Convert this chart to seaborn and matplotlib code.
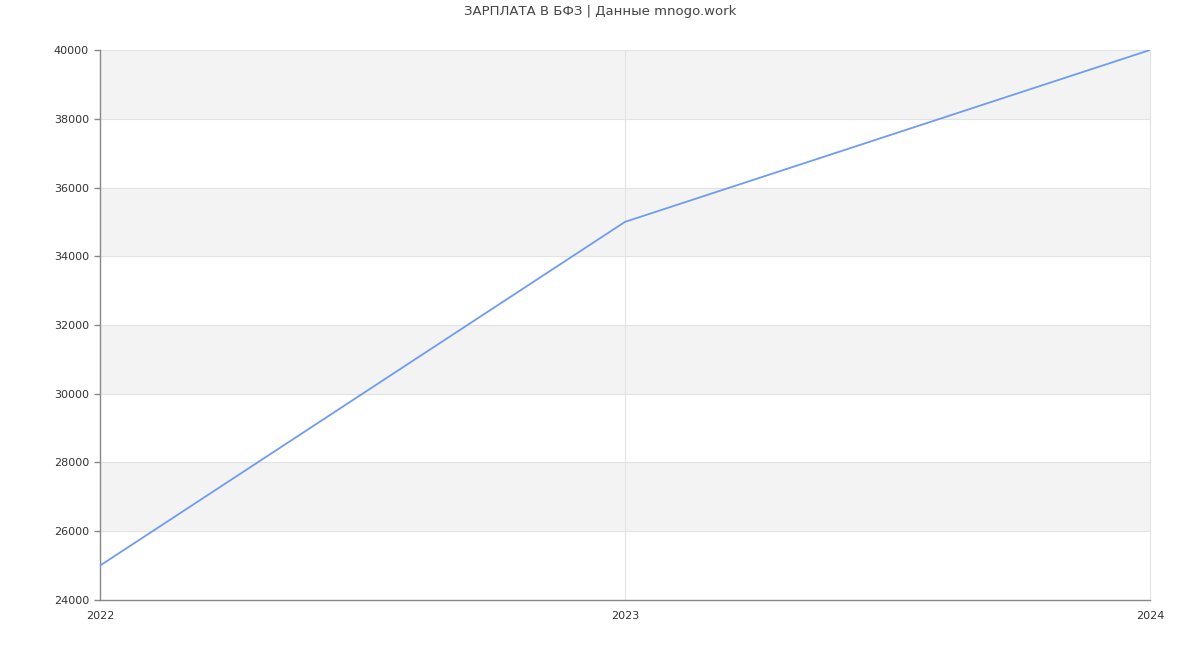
import matplotlib
matplotlib.use("Agg")
import matplotlib.pyplot as plt
import seaborn as sns
import pandas as pd

years = [2022, 2023, 2024]
salary = [25000, 35000, 40000]
yticks = [24000, 26000, 28000, 30000, 32000, 34000, 36000, 38000, 40000]
title = "ЗАРПЛАТА В БФЗ | Данные mnogo.work"

sns.set_theme(style="white")
plt.rcParams['font.family'] = ['DejaVu Sans']

fig = plt.figure(figsize=(12, 6.5), dpi=100)
ax = fig.add_axes([100/1200, 1-600/650, 1050/1200, 550/650])

df = pd.DataFrame({"year": years, "salary": salary})

# alternating bands
for i in range(len(yticks) - 1):
    if i % 2 == 1:
        ax.axhspan(yticks[i], yticks[i+1], color="#f3f3f3", zorder=0, lw=0)
for y in yticks[1:]:
    ax.axhline(y, color="#e2e2e2", lw=0.8, zorder=1, clip_on=False)
for x in years[1:]:
    ax.axvline(x, color="#e2e2e2", lw=0.8, zorder=1, clip_on=False)

sns.lineplot(data=df, x="year", y="salary", ax=ax, color="#6f9cf0", lw=1.3, zorder=3)

ax.set_xlim(years[0], years[-1])
ax.set_ylim(yticks[0], yticks[-1])
ax.set_xticks(years)
ax.set_xticklabels([str(y) for y in years])
ax.set_yticks(yticks)
ax.set_yticklabels([str(y) for y in yticks])
ax.set_xlabel("")
ax.set_ylabel("")

for s in ["top", "right"]:
    ax.spines[s].set_visible(False)
for s in ["left", "bottom"]:
    ax.spines[s].set_color("#888888")
    ax.spines[s].set_linewidth(1)

ax.tick_params(axis="y", left=True, length=4, width=1, color="#888888", labelsize=8, labelcolor="#333333", pad=4)
ax.tick_params(axis="x", bottom=False, labelsize=8, labelcolor="#333333", pad=2)

fig.text(0.5, 1 - 12/650, title, ha="center", va="center", fontsize=9.5, color="#444444")

fig.savefig("out.png", dpi=100)
